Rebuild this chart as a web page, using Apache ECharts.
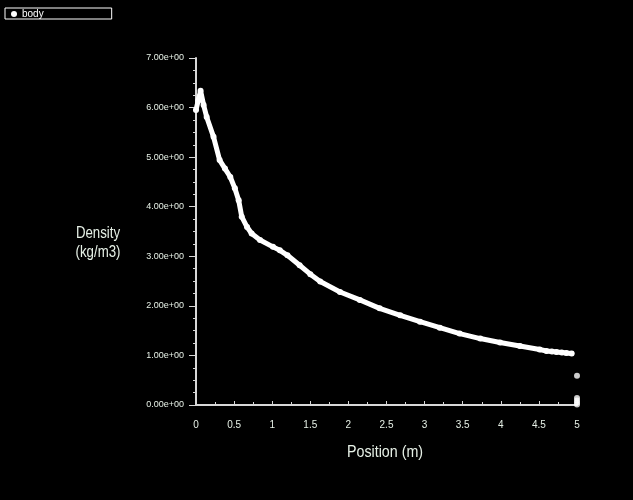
<!DOCTYPE html>
<html>
<head>
<meta charset="utf-8">
<script src="https://cdn.jsdelivr.net/npm/echarts@6/dist/echarts.min.js"></script>
<style>
  html, body { margin: 0; padding: 0; background: #000; }
  #chart { width: 633px; height: 500px; }
</style>
</head>
<body>
<div id="chart"></div>
<script>
// profile
const positions = [0.00, 0.03, 0.06, 0.10, 0.14, 0.23, 0.31, 0.38, 0.45, 0.51, 0.56, 0.60, 0.67, 0.73, 0.84,
  1.01, 1.10, 1.20, 1.36, 1.50, 1.63, 1.89, 2.15, 2.41, 2.68, 2.94, 3.20, 3.46, 3.73, 3.99, 4.25, 4.51,
  4.60, 4.67, 4.73, 4.80, 4.86, 4.93];
const densities = [5.95, 6.15, 6.34, 6.05, 5.81, 5.41, 4.94, 4.77, 4.60, 4.37, 4.13, 3.80, 3.59, 3.46, 3.33,
  3.19, 3.12, 3.02, 2.82, 2.64, 2.49, 2.28, 2.12, 1.95, 1.81, 1.68, 1.56, 1.44, 1.34, 1.26, 1.19, 1.12,
  1.09, 1.08, 1.07, 1.06, 1.05, 1.04];
// outlet dots
const outletPos = [5, 5, 5, 5, 5];
const outletVal = [0.59, 0.14, 0.09, 0.05, 0.01];

const xTicks = [0, 0.5, 1, 1.5, 2, 2.5, 3, 3.5, 4, 4.5, 5];
const yTicks = [0, 1, 2, 3, 4, 5, 6, 7];

const chart = echarts.init(document.getElementById('chart'));
const lineColor = '#d8d8d8';
const labelColor = '#e6f0e6';

const option = {
  backgroundColor: '#000',
  animation: false,
  legend: {
    data: ['body'],
    left: 5,
    top: 8,
    icon: 'circle',
    itemWidth: 6,
    itemHeight: 6,
    padding: [1, 68, 0, 6],
    borderColor: '#ffffff',
    borderWidth: 1,
    backgroundColor: '#000',
    textStyle: { color: '#fff', fontSize: 10, fontFamily: 'Liberation Sans' }
  },
  grid: { left: 196, right: 56, top: 58, bottom: 95 },
  xAxis: {
    type: 'value',
    min: 0,
    max: 5,
    interval: 0.5,
    axisLine: { show: true, onZero: false, lineStyle: { color: lineColor, width: 2 } },
    axisTick: { show: true, inside: true, length: 4, lineStyle: { color: lineColor } },
    minorTick: { show: true, splitNumber: 2, length: 3, lineStyle: { color: lineColor } },
    axisLabel: {
      color: labelColor, fontSize: 10, margin: 15,
      fontFamily: 'Liberation Sans',
      formatter: v => xTicks.includes(v) ? String(v) : ''
    },
    splitLine: { show: false }
  },
  yAxis: {
    type: 'value',
    min: 0,
    max: 7,
    interval: 1,
    axisLine: { show: true, onZero: false, lineStyle: { color: lineColor, width: 2 } },
    axisTick: { show: true, length: 7, lineStyle: { color: lineColor } },
    minorTick: { show: true, splitNumber: 4, length: 3, lineStyle: { color: lineColor } },
    axisLabel: {
      color: labelColor, fontSize: 9, margin: 12,
      fontFamily: 'Liberation Sans',
      formatter: v => yTicks.includes(v) ? v.toFixed(2) + 'e+00' : ''
    },
    splitLine: { show: false }
  },
  graphic: [{
    type: 'text',
    x: 98,
    y: 224,
    scaleX: 0.78,
    style: {
      text: 'Density\n(kg/m3)',
      fill: labelColor,
      font: '17px "Liberation Sans"',
      lineHeight: 19,
      align: 'center'
    }
  }, {
    type: 'text',
    x: 385,
    y: 444,
    scaleX: 0.84,
    style: {
      text: 'Position (m)',
      fill: labelColor,
      font: '17px "Liberation Sans"',
      align: 'center'
    }
  }],
  series: [{
    name: 'body',
    type: 'line',
    data: positions.map((p, i) => [p, densities[i]]),
    symbol: 'circle',
    symbolSize: 6,
    showAllSymbol: true,
    itemStyle: { color: '#fff' },
    lineStyle: { color: '#fff', width: 5, cap: 'round', join: 'round' }
  }, {
    name: 'body',
    type: 'scatter',
    data: outletPos.map((p, i) => [p, outletVal[i]]),
    symbol: 'circle',
    symbolSize: 6,
    itemStyle: { color: '#fff' }
  }]
};

chart.setOption(option);
</script>
</body>
</html>
